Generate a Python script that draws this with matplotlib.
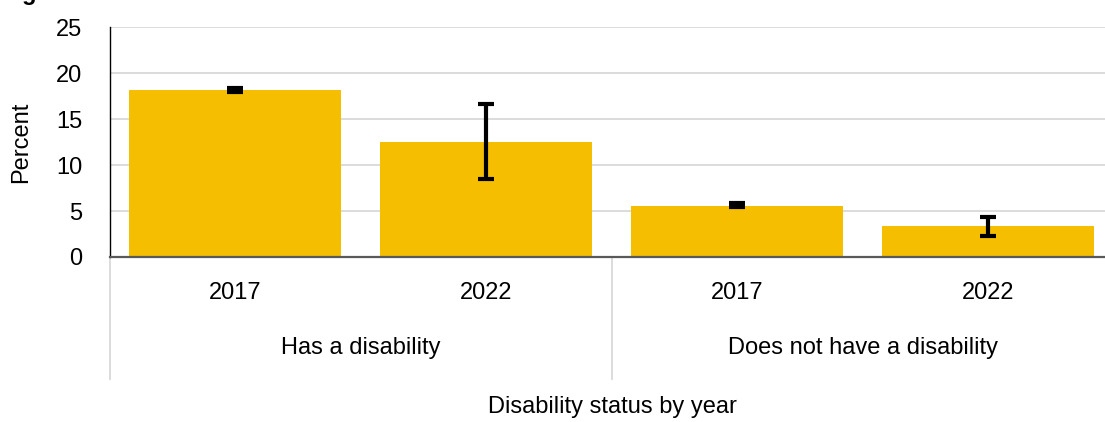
import matplotlib
matplotlib.use('Agg')
import matplotlib.pyplot as plt
import matplotlib.transforms as mtransforms
import numpy as np

plt.rcParams['font.family'] = ['Liberation Sans', 'DejaVu Sans']

# data
groups = ['Has a disability', 'Does not have a disability']
years = ['2017', '2022', '2017', '2022']
values = [18.1, 12.5, 5.5, 3.4]
ci_low = [17.9, 8.5, 5.4, 2.3]
ci_high = [18.4, 16.6, 5.9, 4.4]

bar_color = '#F5BE00'
FS = 17

fig = plt.figure(figsize=(11.05, 4.22), dpi=100)
# plot area runs slightly past the right edge of the figure
ax = fig.add_axes([0.0995, 0.391, 0.9086, 0.545])

x = np.arange(len(values))
vals = np.array(values)
err = np.array([vals - np.array(ci_low), np.array(ci_high) - vals])
ax.bar(x, vals, width=0.845, color=bar_color, zorder=2)
ax.errorbar(x, vals, yerr=err, fmt='none', ecolor='black', elinewidth=3,
            capsize=5.5, capthick=3, zorder=3)

ax.set_xlim(-0.5, len(values) - 0.5)
ax.set_ylim(0, 25)
ax.set_yticks([0, 5, 10, 15, 20, 25])
ax.tick_params(axis='y', length=0, labelsize=FS, pad=20)
ax.grid(axis='y', color='#d9d9d9', linewidth=1.3, zorder=0)
ax.set_axisbelow(True)

ax.set_xticks(x)
ax.set_xticklabels(years)
ax.tick_params(axis='x', length=0, labelsize=FS, pad=18)

for s in ['top', 'right']:
    ax.spines[s].set_visible(False)
ax.spines['left'].set_color('black')
ax.spines['left'].set_linewidth(1.0)
ax.spines['bottom'].set_color('#595959')
ax.spines['bottom'].set_linewidth(1.6)
ax.spines['bottom'].set_zorder(4)

# group separators and labels below the axis
trans = mtransforms.blended_transform_factory(ax.transData, ax.transAxes)
for xs in [-0.5, 1.5, 3.5]:
    ax.plot([xs, xs], [0, -0.53], transform=trans, color='#d9d9d9',
            linewidth=1.3, clip_on=False)
for i, g in enumerate(groups):
    ax.text(2 * i + 0.5, -0.395, g, transform=trans, ha='center', va='center',
            fontsize=FS)

ax.set_ylabel('Percent', fontsize=FS, labelpad=17)
fig.text(0.5538, 0.021, 'Disability status by year', ha='center',
         va='baseline', fontsize=FS)

fig.text(0.001, 1.0, 'Figure', fontsize=FS, fontweight='bold',
         ha='left', va='baseline')

fig.savefig('out.png', dpi=100)
